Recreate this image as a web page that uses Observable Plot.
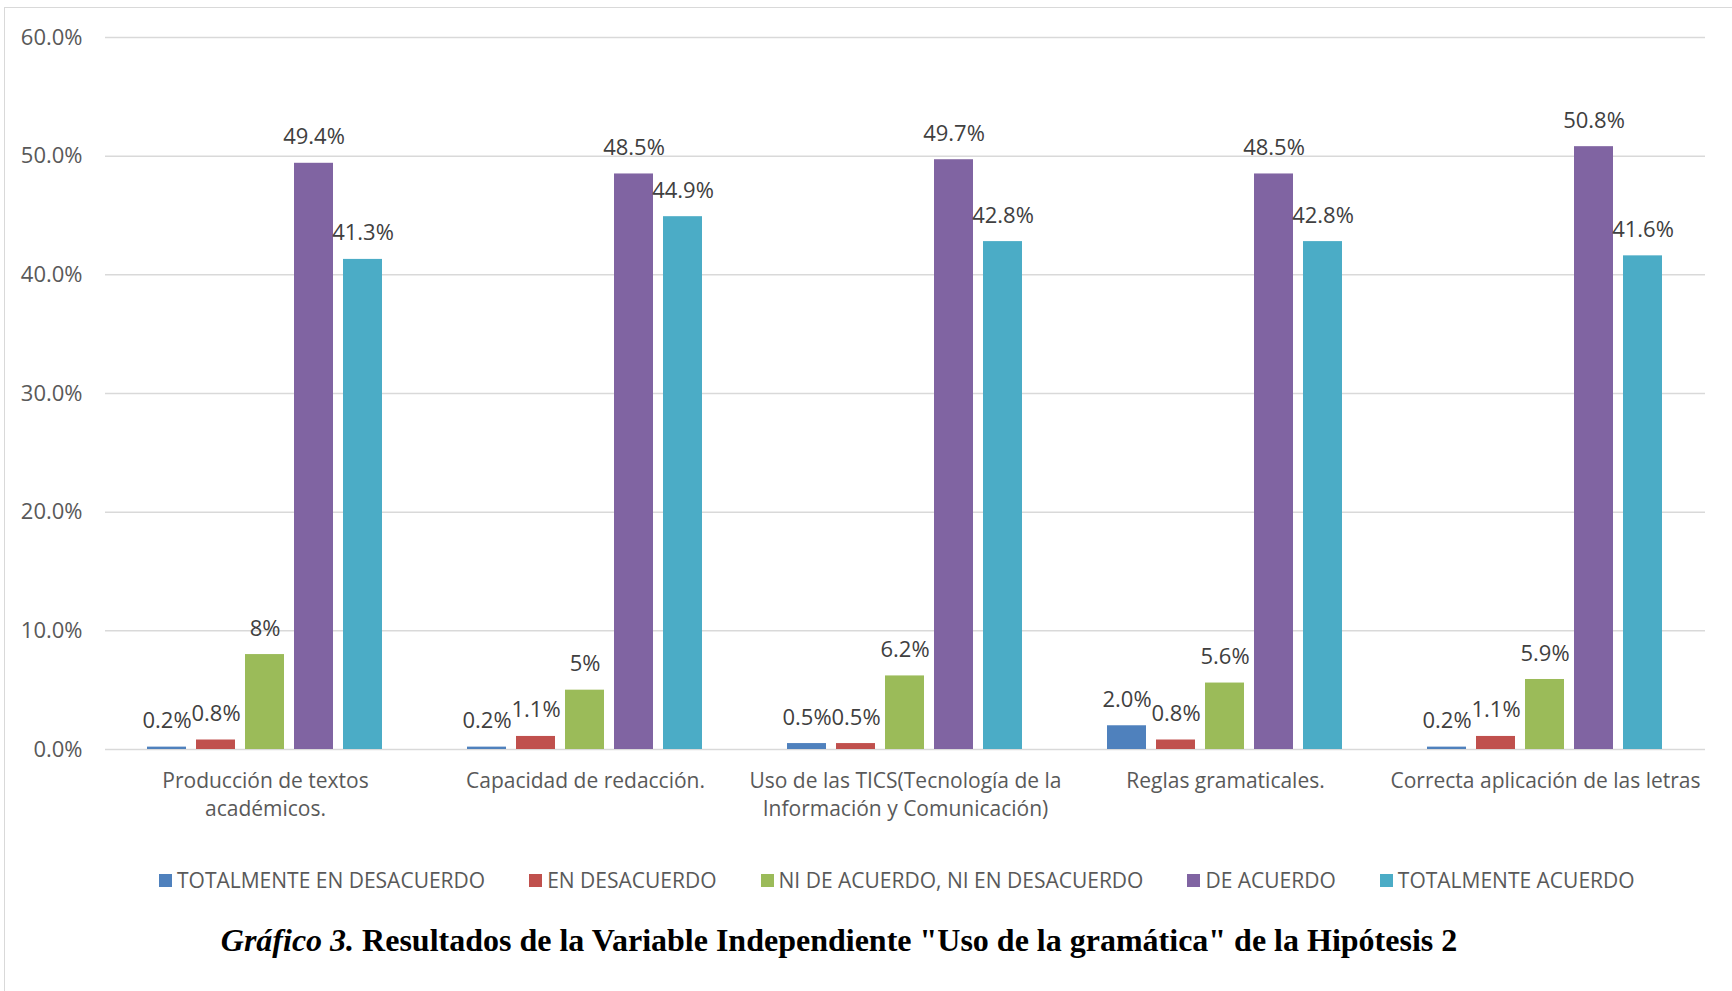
<!DOCTYPE html>
<html>
<head>
<meta charset="utf-8">
<script src="https://cdn.jsdelivr.net/npm/d3@7"></script>
<script src="https://cdn.jsdelivr.net/npm/@observablehq/plot@0.6"></script>
<style>
  html, body { margin: 0; padding: 0; background: #fff; width: 1732px; height: 991px; overflow: hidden; }
  #frame { position: absolute; left: 4px; top: 7px; width: 1800px; height: 1100px; border-left: 1.5px solid #d9d9d9; border-top: 1.5px solid #d9d9d9; }
  #chart { position: absolute; left: 0; top: 0; }
  #legend { position: absolute; left: 159px; top: 866px; display: flex; gap: 44px; font-family: "Open Sans", sans-serif; font-size: 21px; color: #595959; white-space: nowrap; }
  #legend .item { display: flex; align-items: center; }
  #legend .sw { width: 13px; height: 13px; margin-right: 5px; }
  #caption { position: absolute; left: 0; top: 922px; width: 1678px; text-align: center; font-family: "Liberation Serif", "Times New Roman", serif; font-size: 32px; line-height: 36px; font-weight: bold; color: #000; white-space: nowrap; }
</style>
</head>
<body>
<div id="frame"></div>
<div id="chart"></div>
<div id="legend"></div>
<div id="caption"><i>Gráfico 3.</i> Resultados de la Variable Independiente "Uso de la gramática" de la Hipótesis 2</div>
<script>
const categories = [
  "Producción de textos académicos.",
  "Capacidad de redacción.",
  "Uso de las TICS(Tecnología de la Información y Comunicación)",
  "Reglas gramaticales.",
  "Correcta aplicación de las letras"
];
const categoryTickLabels = [
  "Producción de textos\nacadémicos.",
  "Capacidad de redacción.",
  "Uso de las TICS(Tecnología de la\nInformación y Comunicación)",
  "Reglas gramaticales.",
  "Correcta aplicación de las letras"
];
const series = [
  "TOTALMENTE EN DESACUERDO",
  "EN DESACUERDO",
  "NI DE ACUERDO, NI EN DESACUERDO",
  "DE ACUERDO",
  "TOTALMENTE ACUERDO"
];
const colors = ["#4F81BD", "#C0504D", "#9BBB59", "#8064A2", "#4BACC6"];

// values per series, in category order (percent)
const totalmenteDesacuerdo = [0.2, 0.2, 0.5, 2.0, 0.2];
const enDesacuerdo        = [0.8, 1.1, 0.5, 0.8, 1.1];
const niNi                = [8, 5, 6.2, 5.6, 5.9];
const deAcuerdo           = [49.4, 48.5, 49.7, 48.5, 50.8];
const totalmenteAcuerdo   = [41.3, 44.9, 42.8, 42.8, 41.6];

// data labels as printed
const lblTotalmenteDesacuerdo = ["0.2%", "0.2%", "0.5%", "2.0%", "0.2%"];
const lblEnDesacuerdo        = ["0.8%", "1.1%", "0.5%", "0.8%", "1.1%"];
const lblNiNi                = ["8%", "5%", "6.2%", "5.6%", "5.9%"];
const lblDeAcuerdo           = ["49.4%", "48.5%", "49.7%", "48.5%", "50.8%"];
const lblTotalmenteAcuerdo   = ["41.3%", "44.9%", "42.8%", "42.8%", "41.6%"];

const yTicks = [0, 10, 20, 30, 40, 50, 60];

const seriesValues = [totalmenteDesacuerdo, enDesacuerdo, niNi, deAcuerdo, totalmenteAcuerdo];
const seriesLabels = [lblTotalmenteDesacuerdo, lblEnDesacuerdo, lblNiNi, lblDeAcuerdo, lblTotalmenteAcuerdo];

const data = [];
categories.forEach((c, ci) => {
  series.forEach((s, si) => {
    data.push({cat: c, series: s, value: seriesValues[si][ci], label: seriesLabels[si][ci]});
  });
});
const tickMap = new Map(categories.map((c, i) => [c, categoryTickLabels[i]]));

const plot = Plot.plot({
  width: 1732,
  height: 840,
  marginLeft: 103,
  marginRight: 25,
  marginTop: 37,
  marginBottom: 91,
  style: {fontFamily: "'Open Sans', sans-serif", fontSize: "21px", color: "#595959", background: "transparent"},
  fx: {domain: categories, padding: 0, label: null},
  x: {domain: series, paddingInner: 0.2, paddingOuter: 0.85, axis: null},
  y: {domain: [0, 60], label: null},
  color: {domain: series, range: colors},
  marks: [
    Plot.gridY(yTicks, {stroke: "#d9d9d9", strokeOpacity: 1, strokeWidth: 1.5}),
    Plot.axisY(yTicks, {tickSize: 0, tickPadding: 23, tickFormat: d => d.toFixed(1) + "%", fill: "#595959", fontSize: 22, label: null}),
    Plot.axisFx({anchor: "bottom", tickSize: 0, tickPadding: 18, lineHeight: 1.35, tickFormat: d => tickMap.get(d), fill: "#595959", fontSize: 21, label: null}),
    Plot.barY(data, {fx: "cat", x: "series", y: "value", fill: "series"}),
    Plot.text(data, {fx: "cat", x: "series", y: "value", text: "label", dy: -26, fill: "#404040", fontSize: 22})
  ]
});
document.getElementById("chart").appendChild(plot);

const legend = document.getElementById("legend");
series.forEach((s, i) => {
  const item = document.createElement("div");
  item.className = "item";
  const sw = document.createElement("span");
  sw.className = "sw";
  sw.style.background = colors[i];
  const t = document.createElement("span");
  t.textContent = s;
  item.appendChild(sw);
  item.appendChild(t);
  legend.appendChild(item);
});
</script>
</body>
</html>
